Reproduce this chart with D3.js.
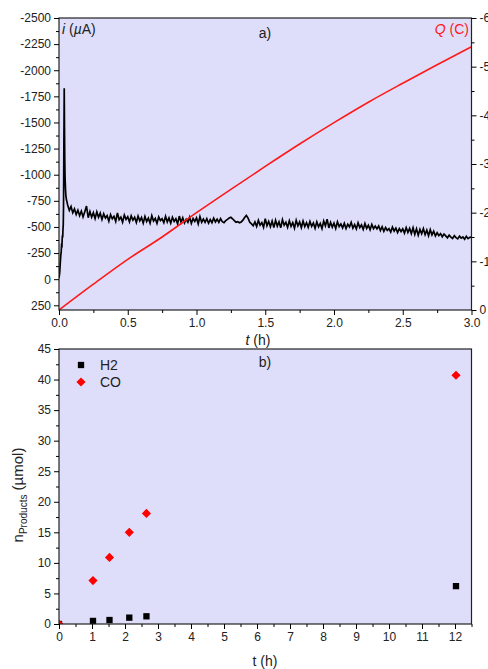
<!DOCTYPE html>
<html>
<head>
<meta charset="utf-8">
<script src="https://cdn.jsdelivr.net/npm/d3@7"></script>
<style>
  body { margin: 0; background: #fff; }
  svg { display: block; font-family: "Liberation Sans", Arial, sans-serif; }
</style>
</head>
<body>
<div id="chart"></div>
<script>
// ---- data ----
// panel a: current i (µA) vs t (h). start-up + spike given point by point
var spikeT = [0, 0.005, 0.009, 0.013, 0.016, 0.019, 0.021, 0.023, 0.025, 0.027, 0.029, 0.031,
              0.033, 0.035, 0.037, 0.038, 0.040, 0.042, 0.044, 0.047, 0.050, 0.054, 0.058];
var spikeI = [-10, -60, -150, -230, -260, -340, -300, -380, -420, -400, -480, -520,
              -700, -1200, -1600, -1827, -1450, -1150, -980, -870, -800, -760, -740];

// after the spike: one reading every 0.0125 h starting at 0.0625 h
var currentStart = 0.0625, currentStep = 0.0125;
var currentI = [
  -712, -658, -695, -635, -672, -620, -660, -608, -652, -596, -645, -700, -588, -648, -594, -636, -580, -644, -592, -632,
  -572, -626, -585, -608, -556, -618, -578, -602, -552, -634, -570, -594, -545, -614, -572, -598, -548, -606, -565, -592,
  -542, -604, -558, -590, -536, -600, -552, -584, -536, -608, -556, -582, -534, -596, -562, -578, -540, -602, -548, -586,
  -536, -592, -552, -578, -530, -604, -545, -588, -538, -574, -546, -594, -534, -580, -552, -586, -530, -600, -545, -576,
  -544, -579, -536, -570, -541, -584, -548, -574, -544, -579, -551, -541, -560, -572, -585, -592, -578, -560, -545, -550,
  -540, -548, -565, -590, -610, -585, -545, -530, -512, -548, -505, -564, -517, -542, -497, -579, -512, -552, -502, -556,
  -494, -564, -508, -549, -491, -569, -516, -544, -496, -559, -506, -542, -488, -564, -511, -548, -494, -556, -504, -540,
  -496, -552, -506, -539, -488, -549, -501, -534, -484, -556, -511, -575, -491, -544, -498, -536, -486, -549, -504, -529,
  -491, -534, -484, -526, -501, -544, -488, -522, -481, -539, -494, -519, -476, -532, -486, -516, -474, -524, -484, -509,
  -481, -509, -466, -502, -458, -494, -468, -484, -451, -499, -461, -489, -446, -484, -456, -482, -441, -494, -448, -486,
  -436, -492, -428, -482, -421, -476, -434, -484, -426, -469, -416, -474, -424, -459, -414, -444, -418, -436, -406, -432,
  -414, -396, -422, -403, -390, -417, -398, -386, -412, -393, -404, -383, -410, -388, -400, -402
];

// panel a: charge Q (C)
var chargeT = [0, 0.25, 0.5, 0.75, 1.0, 1.25, 1.5, 1.75, 2.0, 2.25, 2.5, 2.75, 3.0];
var chargeQ = [0, -0.53, -1.04, -1.50, -2.00, -2.48, -2.95, -3.41, -3.85, -4.27, -4.66, -5.04, -5.41];

// panel b: products (µmol) vs t (h)
var prodT = [0, 1.03, 1.53, 2.13, 2.65, 12.03];
var h2 = [0, 0.5, 0.65, 1.04, 1.26, 6.2];
var co = [0, 7.1, 10.9, 15.0, 18.1, 40.7];

var tickA = [0, 0.5, 1.0, 1.5, 2.0, 2.5, 3.0];
var tickI = [-2500, -2250, -2000, -1750, -1500, -1250, -1000, -750, -500, -250, 0, 250];
var tickQ = [0, -1, -2, -3, -4, -5, -6];
var tickB = [0, 1, 2, 3, 4, 5, 6, 7, 8, 9, 10, 11, 12];
var tickN = [0, 5, 10, 15, 20, 25, 30, 35, 40, 45];

// ---- layout ----
var width = 488, height = 669;
var bg = "#dedefa";
var left = 59, right = 471.5;
var aTop = 18, aBottom = 310;
var bTop = 349, bBottom = 624;

var svg = d3.select("#chart").append("svg")
    .attr("width", width)
    .attr("height", height);

var currentData = spikeT.map(function(t, k){ return [t, spikeI[k]]; })
  .concat(currentI.map(function(v, k){ return [currentStart + k * currentStep, v]; }));

// scales
var xA = d3.scaleLinear().domain([0, 3]).range([left, right]);
var yI = d3.scaleLinear().domain([295, -2500]).range([aBottom, aTop]);
var yQ = d3.scaleLinear().domain([0, -6]).range([aBottom, aTop]);
var xB = d3.scaleLinear().domain([0, 12.5]).range([left, right]);
var yN = d3.scaleLinear().domain([0, 45]).range([bBottom, bTop]);

var plain = function(d){ return String(d); };

// helper: major + minor ticks
function drawAxis(g, axisFn, scale, ticks, minor, fmt){
  g.append("g")
    .call(axisFn(scale).tickValues(minor).tickSize(3).tickFormat(""))
    .call(function(s){ s.select(".domain").remove(); });
  g.append("g")
    .call(axisFn(scale).tickValues(ticks).tickSize(5).tickPadding(3).tickFormat(fmt))
    .call(function(s){
      s.select(".domain").remove();
      s.selectAll("text").style("font-size", "12px").attr("fill", "#222");
    });
}
function mids(arr){
  var out = [];
  for (var k = 0; k < arr.length - 1; k++) out.push((arr[k] + arr[k+1]) / 2);
  return out;
}

// ================= panel a =================
svg.append("rect")
  .attr("x", left).attr("y", aTop)
  .attr("width", right - left).attr("height", aBottom - aTop)
  .style("fill", bg);

svg.append("clipPath").attr("id", "clipA")
  .append("rect")
  .attr("x", left).attr("y", aTop)
  .attr("width", right - left).attr("height", aBottom - aTop);

var lineI = d3.line()
  .x(function(d){ return xA(d[0]); })
  .y(function(d){ return yI(d[1]); });

svg.append("path")
  .datum(currentData)
  .attr("clip-path", "url(#clipA)")
  .attr("d", lineI)
  .style("fill", "none")
  .style("stroke", "#000")
  .style("stroke-width", 1.7);

var lineQ = d3.line()
  .x(function(d, k){ return xA(chargeT[k]); })
  .y(function(d){ return yQ(d); })
  .curve(d3.curveMonotoneX);

svg.append("path")
  .datum(chargeQ)
  .attr("clip-path", "url(#clipA)")
  .attr("d", lineQ)
  .style("fill", "none")
  .style("stroke", "#ff1a1a")
  .style("stroke-width", 1.6);

// frame
svg.append("rect")
  .attr("x", left).attr("y", aTop)
  .attr("width", right - left).attr("height", aBottom - aTop)
  .style("fill", "none").style("stroke", "#222").style("stroke-width", 1.2);

drawAxis(svg.append("g").attr("transform", "translate(0," + aBottom + ")"),
  d3.axisBottom, xA, tickA, mids(tickA), d3.format(".1f"));
drawAxis(svg.append("g").attr("transform", "translate(" + left + ",0)"),
  d3.axisLeft, yI, tickI, mids(tickI), plain);
drawAxis(svg.append("g").attr("transform", "translate(" + right + ",0)"),
  d3.axisRight, yQ, tickQ, mids(tickQ), plain);

// labels
var iLab = svg.append("text").attr("x", 62).attr("y", 34).style("font-size", "14px").attr("fill", "#222");
iLab.append("tspan").style("font-style", "italic").text("i");
iLab.append("tspan").text(" (");
iLab.append("tspan").style("font-style", "italic").text("µ");
iLab.append("tspan").text("A)");

var qLab = svg.append("text").attr("x", 469).attr("y", 34)
  .attr("text-anchor", "end").style("font-size", "14px").attr("fill", "#ff1a1a");
qLab.append("tspan").style("font-style", "italic").text("Q");
qLab.append("tspan").text(" (C)");

svg.append("text").attr("x", 265).attr("y", 38)
  .attr("text-anchor", "middle").style("font-size", "14px").attr("fill", "#222")
  .text("a)");

var tLab = svg.append("text").attr("x", 258).attr("y", 345)
  .attr("text-anchor", "middle").style("font-size", "14px").attr("fill", "#222");
tLab.append("tspan").style("font-style", "italic").text("t");
tLab.append("tspan").text(" (h)");

// ================= panel b =================
svg.append("rect")
  .attr("x", left).attr("y", bTop)
  .attr("width", right - left).attr("height", bBottom - bTop)
  .style("fill", bg);

svg.append("clipPath").attr("id", "clipB")
  .append("rect")
  .attr("x", left).attr("y", bTop)
  .attr("width", right - left).attr("height", bBottom - bTop);

var square = d3.symbol().type(d3.symbolSquare).size(40);
var diamond = d3.symbol().type(d3.symbolSquare).size(42);

var pts = svg.append("g").attr("clip-path", "url(#clipB)");

pts.selectAll(".h2")
  .data(h2).enter()
  .append("path")
  .attr("class", "h2")
  .attr("d", square)
  .attr("transform", function(d, k){ return "translate(" + xB(prodT[k]) + "," + yN(d) + ")"; })
  .style("fill", "#000");

pts.selectAll(".co")
  .data(co).enter()
  .append("path")
  .attr("class", "co")
  .attr("d", diamond)
  .attr("transform", function(d, k){ return "translate(" + xB(prodT[k]) + "," + yN(d) + ") rotate(45)"; })
  .style("fill", "#ff0000");

svg.append("rect")
  .attr("x", left).attr("y", bTop)
  .attr("width", right - left).attr("height", bBottom - bTop)
  .style("fill", "none").style("stroke", "#222").style("stroke-width", 1.2);

drawAxis(svg.append("g").attr("transform", "translate(0," + bBottom + ")"),
  d3.axisBottom, xB, tickB, mids(tickB.concat([13])).filter(function(d){ return d <= 12.5; }), plain);
drawAxis(svg.append("g").attr("transform", "translate(" + left + ",0)"),
  d3.axisLeft, yN, tickN, mids(tickN), plain);

// legend
svg.append("path").attr("d", square).attr("transform", "translate(81,365)").style("fill", "#000");
svg.append("path").attr("d", diamond).attr("transform", "translate(81,382) rotate(45)").style("fill", "#ff0000");
svg.append("text").attr("x", 100).attr("y", 370).style("font-size", "14px").attr("fill", "#222").text("H2");
svg.append("text").attr("x", 100).attr("y", 387).style("font-size", "14px").attr("fill", "#222").text("CO");

svg.append("text").attr("x", 265).attr("y", 367)
  .attr("text-anchor", "middle").style("font-size", "14px").attr("fill", "#222")
  .text("b)");

svg.append("text").attr("x", 265).attr("y", 666)
  .attr("text-anchor", "middle").style("font-size", "14px").attr("fill", "#222")
  .text("t (h)");

var nLab = svg.append("text")
  .attr("transform", "translate(23,495) rotate(-90)")
  .attr("text-anchor", "middle").style("font-size", "15px").attr("fill", "#222");
nLab.append("tspan").text("n");
nLab.append("tspan").attr("dy", 4).style("font-size", "10px").text("Products");
nLab.append("tspan").attr("dy", -4).text(" (µmol)");
</script>
</body>
</html>
